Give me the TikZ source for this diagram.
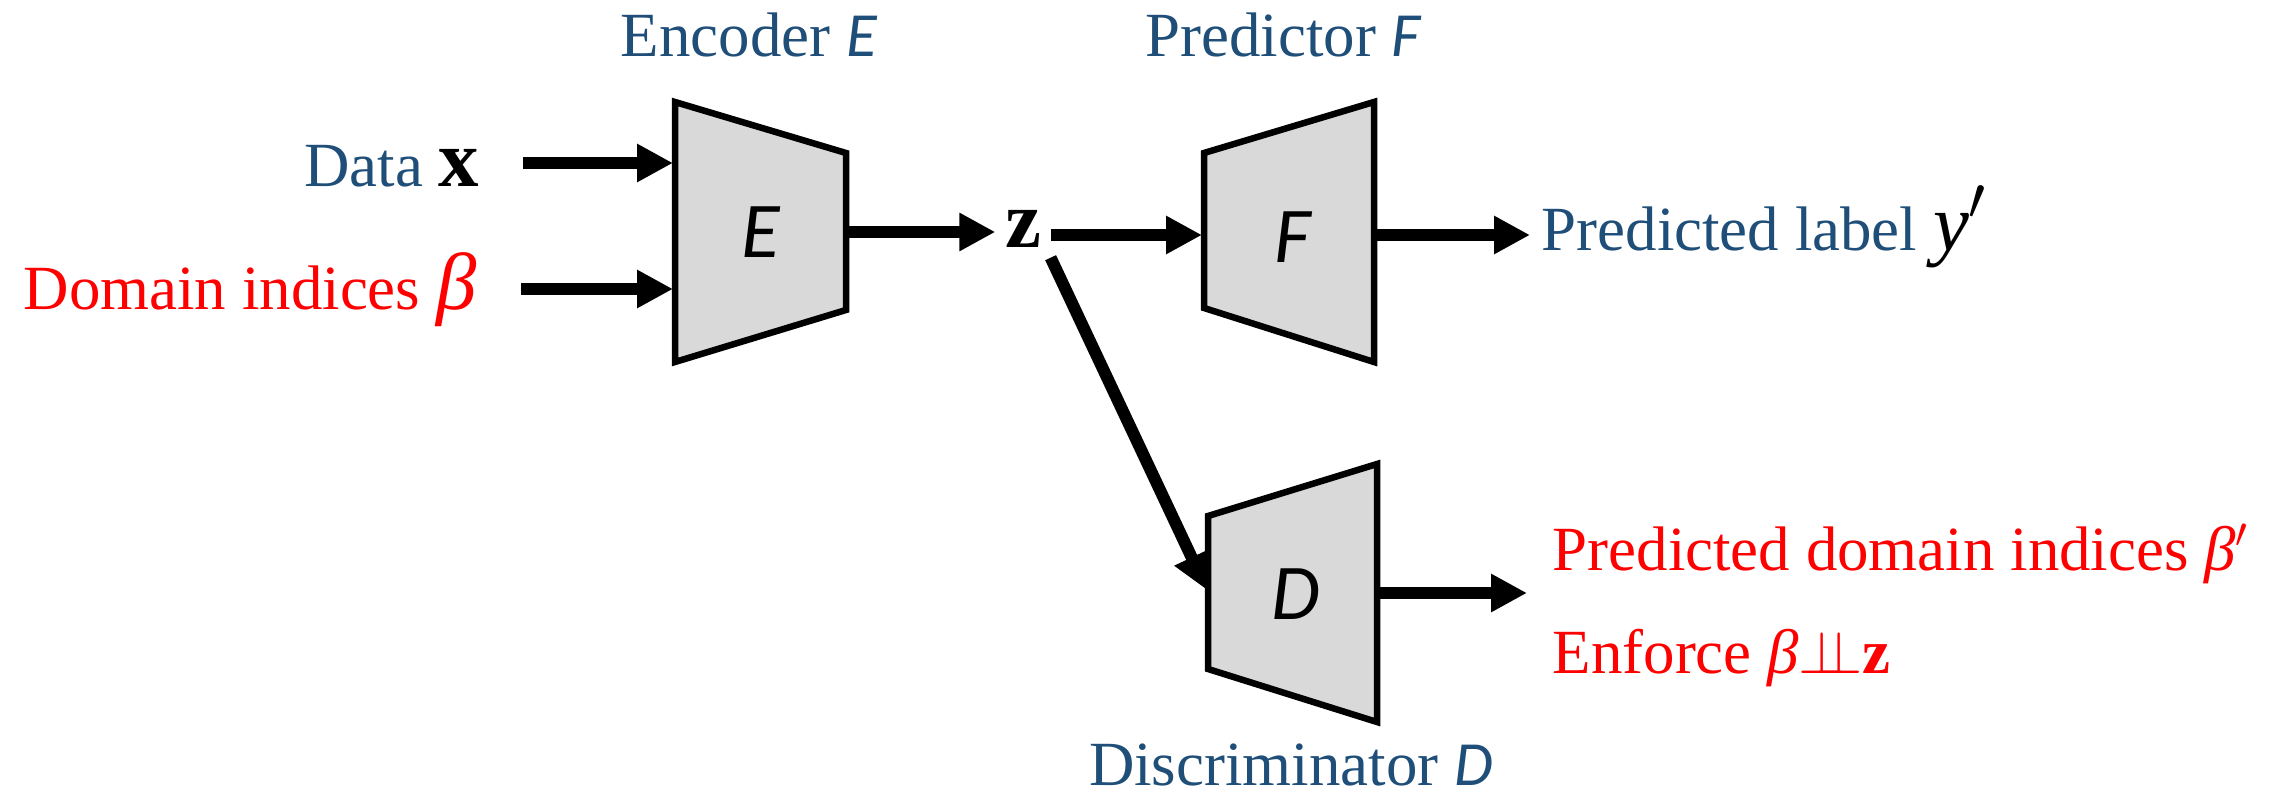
\documentclass[tikz,border=0pt]{standalone}
\usepackage{fontspec}
\setmainfont{Liberation Serif}
\newfontfamily\sansit{Carlito}
\usetikzlibrary{arrows.meta}

\definecolor{netblue}{RGB}{31,78,121}
\definecolor{netred}{RGB}{255,0,0}
\definecolor{netgray}{RGB}{217,217,217}

% letters of the networks and the larger symbols
\newcommand{\fn}[1]{{\sansit\itshape #1}}
\newcommand{\bigsym}[1]{{\fontsize{23}{26}\selectfont #1}}

\begin{document}
\begin{tikzpicture}[x=0.1mm,y=-0.1mm,
		every node/.style={inner sep=0pt, font=\fontsize{17.9}{21}\selectfont},
		block/.style={draw, line width=0.65mm, fill=netgray, line join=miter},
		letter/.style={font=\fontsize{22.5}{26}\selectfont\sansit\itshape},
		flow/.style={line width=1.2mm, -{Triangle[length=3.6mm,width=3.6mm]}}]
		%%%%% START %%%%%
		\useasboundingbox (0,0) rectangle (2292,799);
		
		% encoder
		\draw[block] (675,102) -- (846,153) -- (846,310) -- (675,362) -- cycle;
		\node[letter] (E) at (761,232) {E};
		\coordinate (E-in1) at (673,163);
		\coordinate (E-in2) at (673,289);
		\coordinate (E-out) at (846,232);
		
		% predictor
		\draw[block] (1204,153) -- (1374,102) -- (1374,362) -- (1204,308) -- cycle;
		\node[letter] (F) at (1293,237) {F};
		\coordinate (F-in) at (1202,235);
		\coordinate (F-out) at (1377,235);
		
		% labels
		\node[netblue, anchor=base] (enclbl) at (749,57) {Encoder \fn{E}};
		\node[netblue, anchor=base] (predlbl) at (1283,57) {Predictor \fn{F}};
		\node[netblue, anchor=base east] (datalbl) at (480,187) {Data \textcolor{black}{\bigsym{\textbf{x}}}};
		\node[netred, anchor=base east] (domlbl) at (477,310) {Domain indices \bigsym{\textit{β}}};
		\node[anchor=base, inner sep=0.9mm] (z) at (1023,248) {\bigsym{\textbf{z}}};
		\node[netblue, anchor=base west] (ylbl) at (1541,251) {Predicted label \textcolor{black}{\bigsym{\textit{y}$'$}}};
		\node[netred, anchor=base west] (betalbl) at (1552,570) {Predicted domain indices \textit{β}$'$};
		\node[netred, anchor=base west] (indlbl) at (1552,673) {Enforce \textit{β}$\perp\!\!\!\perp$\textbf{z}};
		\node[netblue, anchor=base] (disclbl) at (1291,785) {Discriminator \fn{D}};
		
		\coordinate (xtail) at (523,163);
		\coordinate (btail) at (521,289);
		\coordinate (ytip) at (1530,235);
		\coordinate (D-in) at (1207,590);
		\coordinate (D-out) at (1379,593);
		\coordinate (btip) at (1527,593);
		
		% connectors
		\draw[flow] (xtail) -- (E-in1);
		\draw[flow] (btail) -- (E-in2);
		\draw[flow] (E-out) -- (E-out -| z.west);
		\draw[flow] (z.east |- F-in) -- (F-in);
		\draw[flow] (F-out) -- (ytip);
		\draw[flow] (z.south east) -- (D-in);
		\draw[flow] (D-out) -- (btip);
		
		% discriminator, over the head of the slanted arrow
		\draw[block] (1208,516) -- (1377,464) -- (1377,722) -- (1208,669) -- cycle;
		\node[letter] (D) at (1296,594) {D};
		%%%%% END %%%%%
\end{tikzpicture}
\end{document}
